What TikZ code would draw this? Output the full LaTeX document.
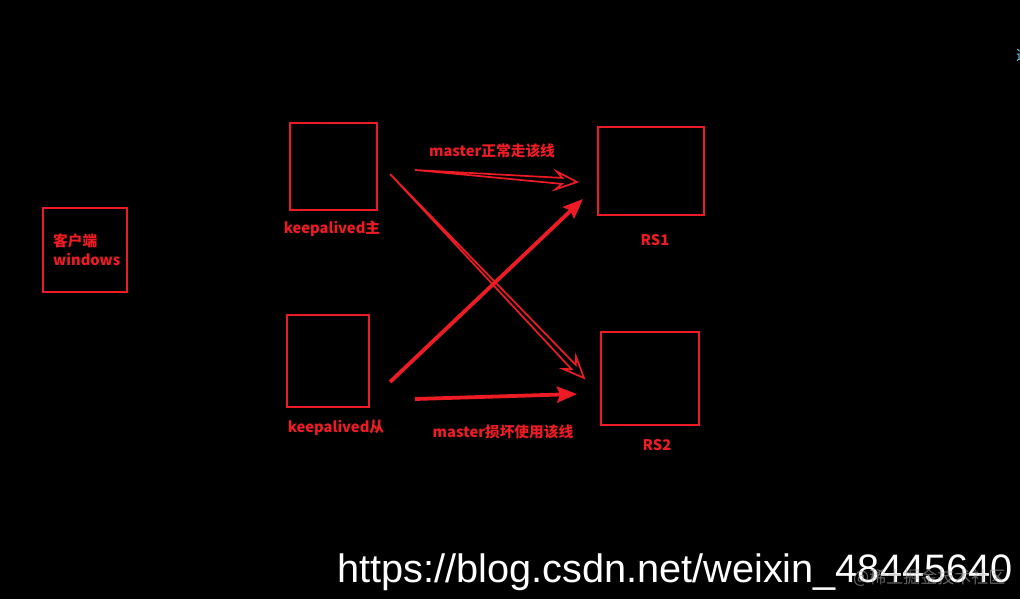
\documentclass[tikz,border=0pt]{standalone}
\usepackage{fontspec}
\setmainfont{Noto Sans CJK SC}
\newfontfamily\wmfont{Liberation Sans}
\usetikzlibrary{arrows.meta,calc}
\definecolor{rd}{RGB}{237,28,36}
\definecolor{cy}{RGB}{120,220,255}
\tikzset{
  box/.style={draw=rd,line width=2pt,inner sep=0pt},
  lbl/.style={text=rd,font=\bfseries\fontsize{14.7}{17}\selectfont,inner sep=0pt},
  solidarr/.style={draw=rd,line width=3.8pt,-{Stealth[length=20pt,width=16pt,inset=3pt]}},
  hollow/.style={draw=rd,line width=1.7pt,line join=miter}
}
\newcommand\hollowarr[2]{\path[hollow] (#1) -- ($(#2)!15pt!(#1)!3pt!90:(#1)$) -- ($(#2)!21pt!(#1)!9pt!90:(#1)$) -- (#2) -- ($(#2)!21pt!(#1)!9pt!-90:(#1)$) -- ($(#2)!15pt!(#1)!3pt!-90:(#1)$) -- cycle;}
\begin{document}
\begin{tikzpicture}[x=1pt,y=-1pt]
\useasboundingbox (0,0) rectangle (1020,599);
\fill[black] (0,0) rectangle (1020,599);
\begin{scope}
\clip (0,0) rectangle (1020,599);
\node[text=cy,font=\fontsize{14}{16}\selectfont,inner sep=0pt] (cut) at (1023,55) {选};
\end{scope}
% boxes
\node[box,minimum width=84pt,minimum height=84pt] (client) at (85,250) {};
\node[box,minimum width=87pt,minimum height=87pt] (kmaster) at (333.5,166.5) {};
\node[box,minimum width=82pt,minimum height=92pt] (kslave) at (328,361) {};
\node[box,minimum width=106pt,minimum height=88pt] (rs1) at (651,171) {};
\node[box,minimum width=98pt,minimum height=93pt] (rs2) at (650,378.5) {};
% labels
\node[lbl,anchor=west] (cl1) at (53,241) {客户端};
\node[lbl,anchor=west] (cl2) at (53,259) {windows};
\node[lbl] (kml) at (332,229) {keepalived主};
\node[lbl] (ksl) at (336,428) {keepalived从};
\node[lbl] (rs1l) at (655,240) {RS1};
\node[lbl] (rs2l) at (657,445) {RS2};
\node[lbl] (t1) at (492,151) {master正常走该线};
\node[lbl] (t2) at (503,432) {master损坏使用该线};
% arrow end points
\coordinate (a1s) at (415,170);
\coordinate (a1e) at (577,182);
\coordinate (a2s) at (390,174);
\coordinate (a2e) at (584,378);
\coordinate (b1s) at (390,382);
\coordinate (b1e) at (583,199);
\coordinate (b2s) at (415,399);
\coordinate (b2e) at (577,394);
\hollowarr{a1s}{a1e}
\hollowarr{a2s}{a2e}
\draw[solidarr] (b1s) -- (b1e);
\draw[solidarr] (b2s) -- (b2e);
% watermark
\node[text=white,font=\wmfont\fontsize{39.7}{44}\selectfont,anchor=base west,inner sep=0pt] (wm) at (337,582) {https://blog.csdn.net/weixin\_48445640};
\node[text=gray!70,opacity=0.6,font=\fontsize{17}{19}\selectfont,anchor=west,inner sep=0pt] (wm2) at (853,578) {@稀土掘金技术社区};
\end{tikzpicture}
\end{document}
